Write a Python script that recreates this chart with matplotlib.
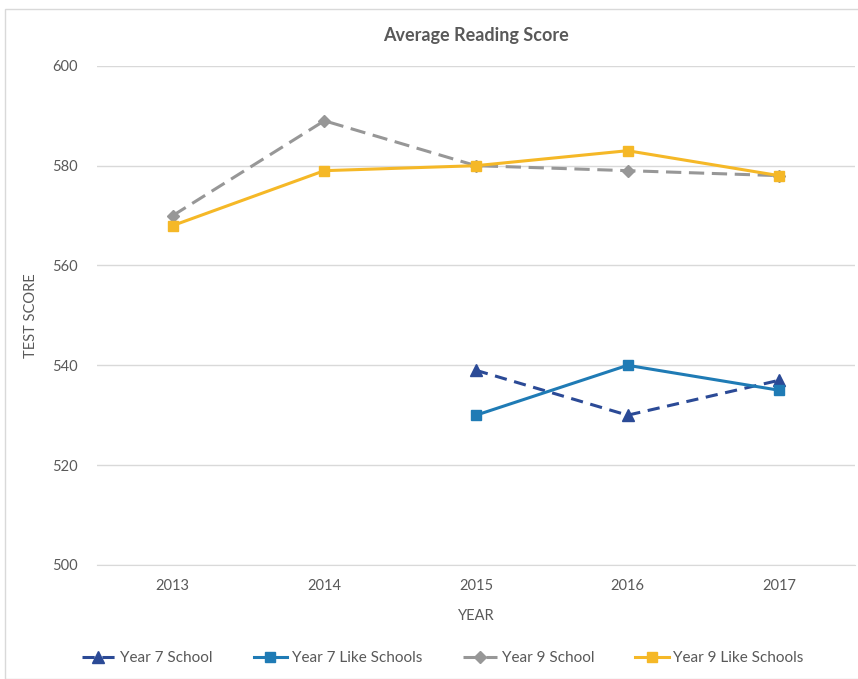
import matplotlib
matplotlib.use('Agg')
import matplotlib.pyplot as plt
from matplotlib.patches import Rectangle

years = ['2013', '2014', '2015', '2016', '2017']
y7_school = [None, None, 539, 530, 537]
y7_like = [None, None, 530, 540, 535]
y9_school = [570, 589, 580, 579, 578]
y9_like = [568, 579, 580, 583, 578]

plt.rcParams['font.family'] = ['Lato', 'DejaVu Sans']
text_color = '#595959'

fig = plt.figure(figsize=(8.58, 6.79), dpi=100)
ax = fig.add_axes([0.113, 0.168, 0.8835, 0.735])

# chart border
fig.patches.append(Rectangle((5 / 858, 0), 1, 1 - 9 / 679, transform=fig.transFigure,
                             fill=False, edgecolor='#D9D9D9', linewidth=1))

x = list(range(len(years)))


def pts(vals):
    xs = [i for i, v in zip(x, vals) if v is not None]
    ys = [v for v in vals if v is not None]
    return xs, ys


series = [
    ('Year 7 School', y7_school, '#2B4A96', (0, (4, 2.5)), '^', 8),
    ('Year 7 Like Schools', y7_like, '#1F7BB5', '-', 's', 7),
    ('Year 9 School', y9_school, '#979797', (0, (5, 2.5)), 'D', 6.5),
    ('Year 9 Like Schools', y9_like, '#F5B827', '-', 's', 7),
]
for label, vals, color, ls, mk, ms in series:
    xs, ys = pts(vals)
    ax.plot(xs, ys, color=color, linestyle=ls, linewidth=2.2, marker=mk,
            markersize=ms, markerfacecolor=color, markeredgecolor=color, label=label)

ax.set_xlim(-0.5, 4.5)
ax.set_ylim(500, 600)
ax.set_yticks(range(500, 601, 20))
ax.set_xticks(x)
ax.set_xticklabels(years)
ax.grid(axis='y', color='#D9D9D9', linewidth=1)
ax.set_axisbelow(True)
for s in ['top', 'right', 'left']:
    ax.spines[s].set_visible(False)
ax.spines['bottom'].set_color('#D9D9D9')
ax.tick_params(axis='both', length=0, colors=text_color, labelsize=10.5, pad=10)
ax.tick_params(axis='y', pad=14)

ax.set_title('Average Reading Score', color=text_color, fontsize=13, fontweight='bold', pad=18)
ax.set_xlabel('YEAR', color=text_color, fontsize=10.5, labelpad=12)
ax.set_ylabel('TEST SCORE', color=text_color, fontsize=10.5, labelpad=10)

fig.legend(loc='center', bbox_to_anchor=(0.516, 1 - 658 / 679), ncol=4, frameon=False,
           fontsize=11, labelcolor=text_color, handlelength=2.2, handletextpad=0.3,
           columnspacing=2.7)

fig.savefig('out.png', dpi=100)
